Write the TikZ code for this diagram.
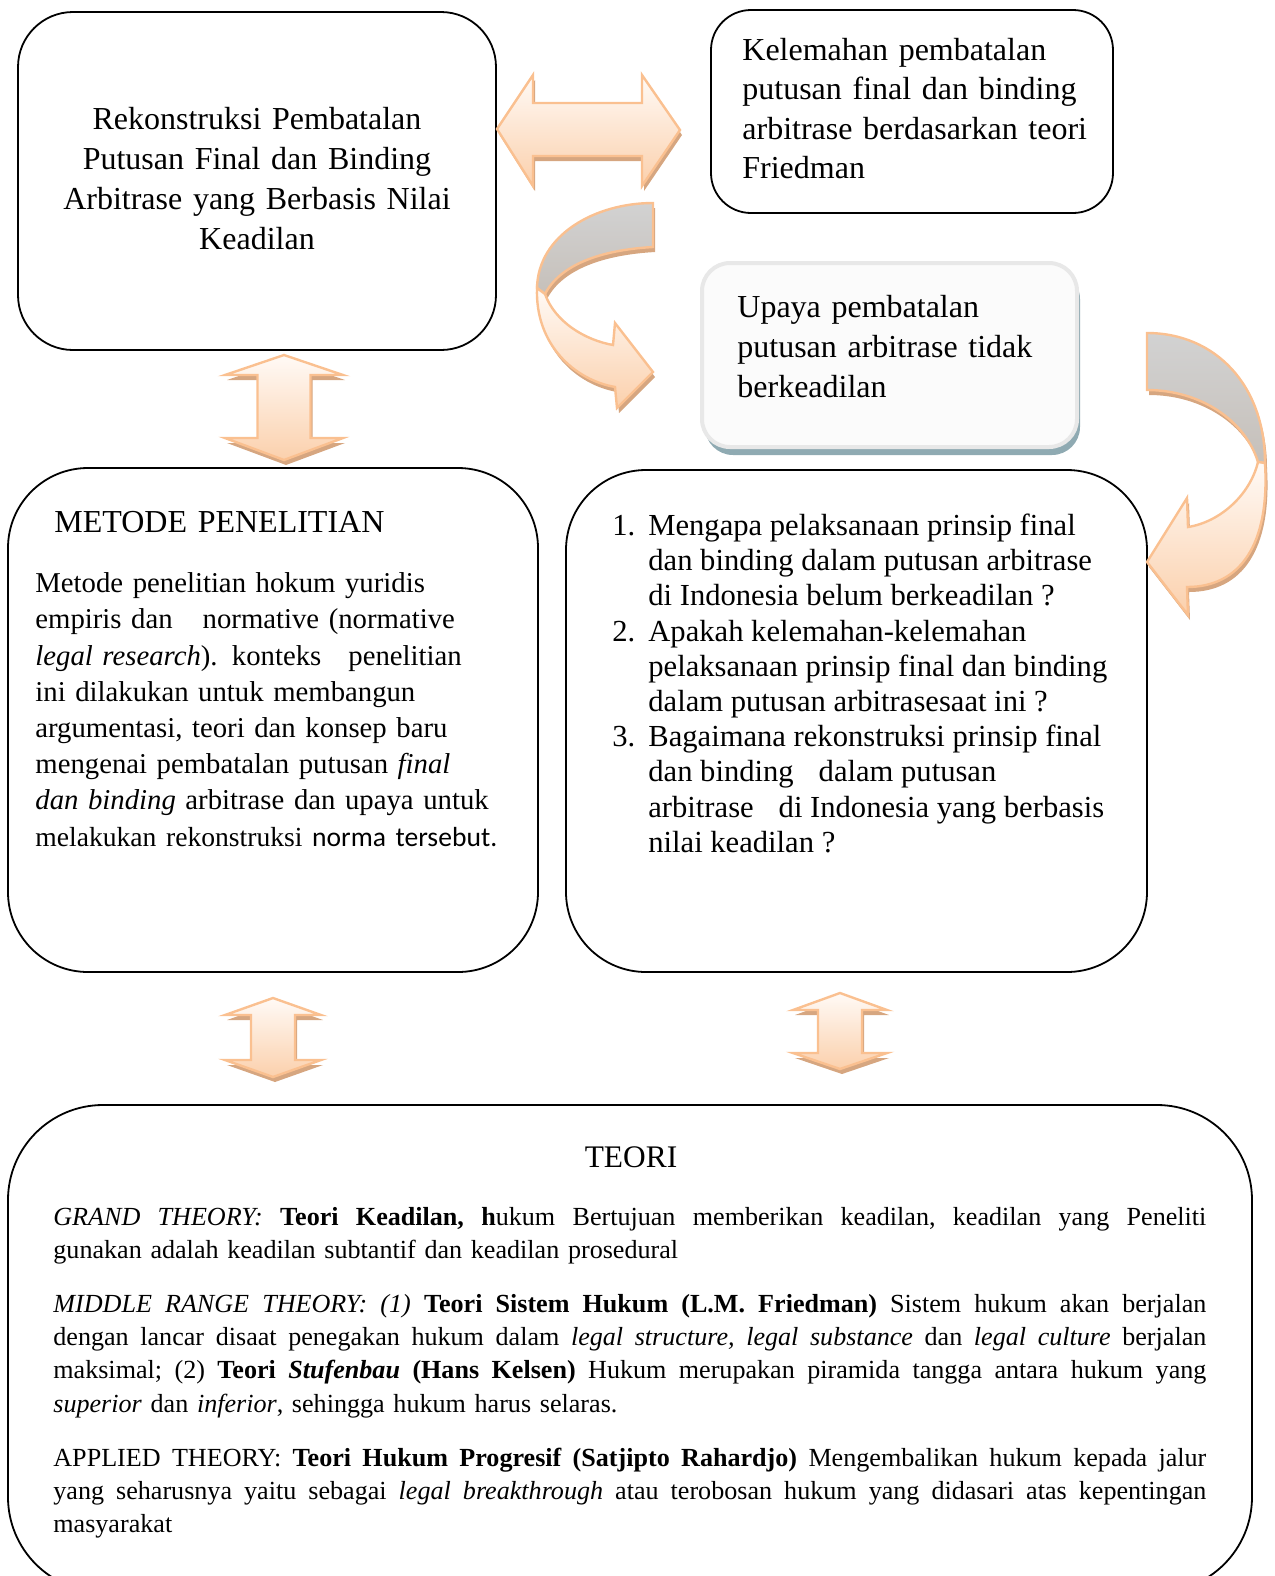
\documentclass[tikz,border=0pt]{standalone}
\usepackage{fontspec}
\setmainfont{Liberation Serif}
\newfontfamily\calibri{Carlito}
\usetikzlibrary{shadows}

\definecolor{peachline}{RGB}{250,192,144}
\definecolor{peachtop}{RGB}{255,250,246}
\definecolor{peachbot}{RGB}{251,208,172}
\definecolor{peachshadow}{RGB}{214,166,128}
\definecolor{backgray}{RGB}{210,210,210}
\definecolor{backgraybot}{RGB}{198,192,186}
\definecolor{boxshadow}{RGB}{143,170,178}
\definecolor{boxrim}{RGB}{232,232,232}
\definecolor{boxfill}{RGB}{251,251,251}

% one justified line of the theory box
\newcommand\jline[1]{\leavevmode\hbox to 576.5pt{\frenchspacing\spaceskip=.25em plus 1fil\relax #1}}

\tikzset{
	box/.style={draw, line width=.9pt, inner sep=0pt},
	txt/.style={inner sep=0pt, anchor=base west, align=left},
	blockarrow/.style={draw=peachline, line width=1.2pt, top color=peachtop, bottom color=peachbot,
		drop shadow={shadow xshift=1pt, shadow yshift=-2.5pt, fill=peachshadow, opacity=1}},
	backside/.style={draw=peachline, line width=1.2pt, top color=backgray, bottom color=backgraybot,
		drop shadow={shadow xshift=1pt, shadow yshift=-2.5pt, fill=peachshadow, opacity=1}}
}

\begin{document}
\begin{tikzpicture}[x=0.5pt, y=-0.5pt]
	\useasboundingbox (0,0) rectangle (1275,1576);
	
	% boxes
	\node[box, rounded corners=27.5pt, minimum width=239pt, minimum height=169pt] (rekon) at (257,181) {};
	\node[box, rounded corners=20pt, minimum width=201pt, minimum height=101.5pt] (kelemahan) at (912,111.5) {};
	\node[box, draw=boxrim, line width=2pt, fill=boxfill, rounded corners=14pt, minimum width=187.5pt, minimum height=92pt,
		drop shadow={shadow xshift=1.5pt, shadow yshift=-4pt, fill=boxshadow, opacity=1}] (upaya) at (889.5,355) {};
	\node[box, rounded corners=40pt, minimum width=265pt, minimum height=252pt] (metode) at (273,720) {};
	\node[box, rounded corners=40pt, minimum width=290.5pt, minimum height=251pt] (masalah) at (856.5,721) {};
	\node[box, rounded corners=47.5pt, minimum width=622pt, minimum height=243.5pt] (teori) at (630,1348.5) {};
	
	% texts
	\node[txt, anchor=base, align=center, text width=235pt, font=\fontsize{16}{20}\selectfont] (rekontxt) at (257,129.5)
		{Rekonstruksi Pembatalan\\Putusan Final dan Binding\\Arbitrase yang Berbasis Nilai\\Keadilan};
	\node[txt, text width=190pt, font=\fontsize{16}{19.65}\selectfont] (kelemahantxt) at (742,60.5)
		{Kelemahan pembatalan\\putusan final dan binding\\arbitrase berdasarkan teori\\Friedman};
	\node[txt, text width=170pt, font=\fontsize{16}{20}\selectfont] (upayatxt) at (737,317.5)
		{Upaya pembatalan\\putusan arbitrase tidak\\berkeadilan};
	\node[txt, text width=220pt, font=\fontsize{16}{20}\selectfont] (metodehead) at (54,532) {METODE PENELITIAN};
	\node[txt, text width=262pt, font=\fontsize{14.37}{18.1}\selectfont] (metodetxt) at (35,592.7)
		{Metode penelitian hokum yuridis\\
		empiris dan\hspace{15pt}normative (normative\\
		\textit{legal research}). konteks\hspace{13.5pt}penelitian\\
		ini dilakukan untuk membangun\\
		argumentasi, teori dan konsep baru\\
		mengenai pembatalan putusan \textit{final}\\
		\textit{dan binding} arbitrase dan upaya untuk\\
		{\fontsize{13.8}{18.1}\selectfont melakukan rekonstruksi {\calibri norma tersebut.}}};
	\node[inner sep=0pt, anchor=base west, font=\fontsize{15.3}{17.6}\selectfont] (masalahtxt) at (612,535.5)
		{\begin{tabular}[t]{@{}p{18pt}@{}l@{}}
		1. & Mengapa pelaksanaan prinsip final\\
		   & dan binding dalam putusan arbitrase\\
		   & di Indonesia belum berkeadilan ?\\
		2. & Apakah kelemahan-kelemahan\\
		   & pelaksanaan prinsip final dan binding\\
		   & dalam putusan arbitrasesaat ini ?\\
		3. & Bagaimana rekonstruksi prinsip final\\
		   & dan binding\hspace{12.5pt}dalam putusan\\
		   & arbitrase\hspace{12.5pt}di Indonesia yang berbasis\\
		   & nilai keadilan ?
		\end{tabular}};
	\node[txt, anchor=base, align=center, text width=100pt, font=\fontsize{15.7}{19}\selectfont] (teorihead) at (631,1167) {TEORI};
	\node[txt, text width=580pt, font=\fontsize{13.05}{16.6}\selectfont] (teoritxt) at (53,1225)
		{\jline{\textit{GRAND THEORY:} \textbf{Teori Keadilan, h}ukum Bertujuan memberikan keadilan, keadilan yang Peneliti}\\
		gunakan adalah keadilan subtantif dan keadilan prosedural\\[10.5pt]
		\jline{\textit{MIDDLE RANGE THEORY: (1)} \textbf{Teori Sistem Hukum (L.M. Friedman)} Sistem hukum akan berjalan}\\
		\jline{dengan lancar disaat penegakan hukum dalam \textit{legal structure, legal substance} dan \textit{legal culture} berjalan}\\
		\jline{maksimal; (2) \textbf{Teori \textit{Stufenbau} (Hans Kelsen)} Hukum merupakan piramida tangga antara hukum yang}\\
		\textit{superior} dan \textit{inferior}, sehingga hukum harus selaras.\\[10.5pt]
		\jline{APPLIED THEORY: \textbf{Teori Hukum Progresif (Satjipto Rahardjo)} Mengembalikan hukum kepada jalur}\\
		\jline{yang seharusnya yaitu sebagai \textit{legal breakthrough} atau terobosan hukum yang didasari atas kepentingan}\\
		masyarakat};
	
	% block arrows
	\draw[blockarrow] (497,129) -- (533,75) -- (533,103) -- (642,103) -- (642,75) -- (680,130)
		-- (642,186) -- (642,156) -- (533,156) -- (533,186) -- cycle;
	\draw[blockarrow] (284,355) -- (343,375) -- (310.5,375) -- (310.5,438) -- (343,438) -- (284,460)
		-- (225,438) -- (257.5,438) -- (257.5,375) -- (225,375) -- cycle;
	\draw[blockarrow] (273,998) -- (321,1015) -- (295,1015) -- (295,1060) -- (321,1060) -- (273,1077)
		-- (225,1060) -- (251,1060) -- (251,1015) -- (225,1015) -- cycle;
	\draw[blockarrow] (840,993) -- (887,1010) -- (862,1010) -- (862,1053) -- (887,1053) -- (840,1069)
		-- (793,1053) -- (818,1053) -- (818,1010) -- (793,1010) -- cycle;
	
	% curved arrows
	\draw[backside] (653,203) .. controls (595,203) and (538,235) .. (537,288) -- (545,294)
		.. controls (560,265) and (600,250) .. (653,247) -- cycle;
	\draw[blockarrow] (537,288) .. controls (535,345) and (575,380) .. (615,387) -- (617,408) -- (653,372)
		-- (615,323) -- (613,345) .. controls (585,340) and (555,322) .. (545,294) -- cycle;
	\draw[backside] (1147,333) .. controls (1215,333) and (1265,385) .. (1265,463) -- (1258,462)
		.. controls (1245,420) and (1200,390) .. (1147,390) -- cycle;
	\draw[blockarrow] (1265,463) .. controls (1270,545) and (1240,587) .. (1187,587) -- (1188,615) -- (1147,562)
		-- (1187,498) -- (1188,527) .. controls (1220,522) and (1250,495) .. (1258,462) -- cycle;
\end{tikzpicture}
\end{document}
